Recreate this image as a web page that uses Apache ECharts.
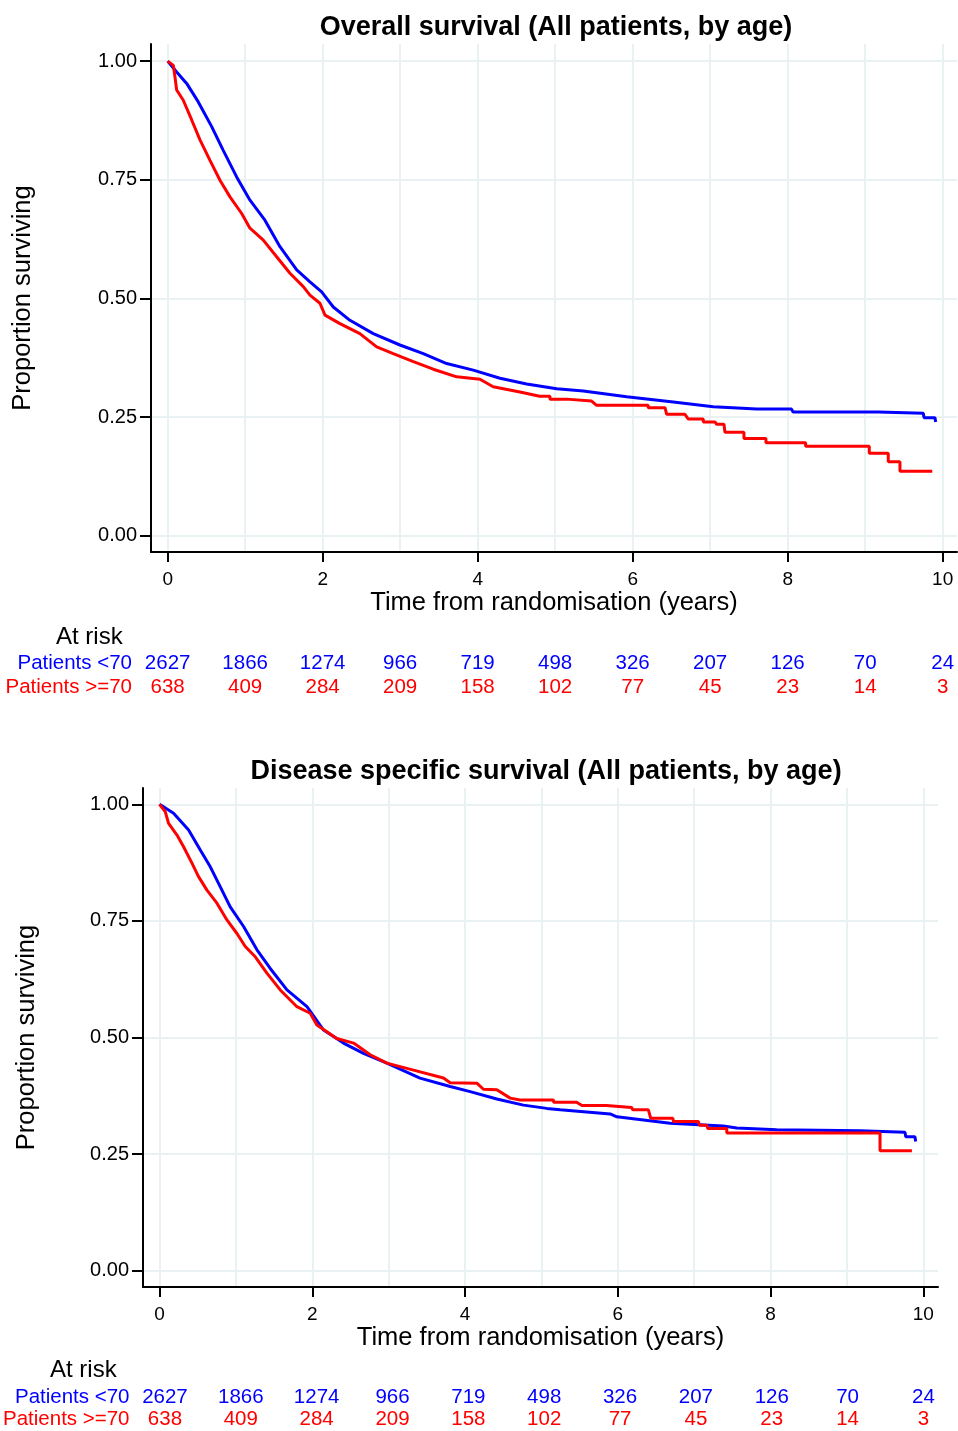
<!DOCTYPE html>
<html>
<head>
<meta charset="utf-8">
<script src="https://cdn.jsdelivr.net/npm/echarts@6/dist/echarts.min.js"></script>
<style>
  html, body { margin: 0; padding: 0; background: #fff; }
  #chart { width: 958px; height: 1431px; }
</style>
</head>
<body>
<div id="chart"></div>
<script>
// 生存曲线数据 [年, 生存比例]
const osUnder70 = [
  [0, 1.0], [0.116, 0.977], [0.245, 0.953], [0.395, 0.914], [0.568, 0.862], [0.717, 0.812],
  [0.89, 0.756], [1.062, 0.707], [1.255, 0.665], [1.449, 0.609], [1.665, 0.560], [1.836, 0.535],
  [1.987, 0.514], [2.137, 0.482], [2.352, 0.454], [2.653, 0.426], [2.997, 0.402], [3.298, 0.384],
  [3.6, 0.363], [3.943, 0.349], [4.288, 0.332], [4.632, 0.320], [5.02, 0.310], [5.363, 0.305],
  [5.923, 0.293], [6.524, 0.282], [7.04, 0.272], [7.6, 0.267], [8.05, 0.267], [8.07, 0.261],
  [9.17, 0.261], [9.17, 0.258], [9.75, 0.258], [9.76, 0.249], [9.90, 0.249], [9.91, 0.240]
]
const osOver70 = [
  [0, 1.0], [0.073, 0.991], [0.094, 0.967], [0.116, 0.939], [0.2, 0.918], [0.31, 0.876],
  [0.417, 0.834], [0.546, 0.791], [0.675, 0.749], [0.804, 0.714], [0.955, 0.679], [1.062, 0.648],
  [1.234, 0.623], [1.406, 0.588], [1.578, 0.553], [1.75, 0.525], [1.836, 0.507], [1.965, 0.490],
  [2.03, 0.465], [2.223, 0.447], [2.48, 0.426], [2.697, 0.398], [2.91, 0.384], [3.17, 0.367],
  [3.427, 0.351], [3.729, 0.335], [4.03, 0.330], [4.2, 0.314], [4.546, 0.303], [4.80, 0.294],
  [4.933, 0.294], [4.933, 0.288], [5.148, 0.288], [5.148, 0.284], [5.47, 0.284], [5.535, 0.275],
  [6.20, 0.275], [6.20, 0.270], [6.417, 0.270], [6.439, 0.256], [6.675, 0.256], [6.718, 0.246],
  [6.911, 0.246], [6.911, 0.240], [7.062, 0.240], [7.084, 0.235], [7.178, 0.235], [7.191, 0.218],
  [7.436, 0.218], [7.436, 0.205], [7.72, 0.205], [7.72, 0.196], [8.232, 0.196], [8.232, 0.189],
  [9.053, 0.189], [9.053, 0.174], [9.298, 0.174], [9.298, 0.156], [9.449, 0.156], [9.449, 0.136],
  [9.866, 0.136]
]
const dssUnder70 = [
  [0, 1.0], [0.183, 0.981], [0.38, 0.945], [0.533, 0.902], [0.664, 0.866], [0.795, 0.823],
  [0.925, 0.780], [1.1, 0.738], [1.275, 0.688], [1.449, 0.648], [1.668, 0.602], [1.93, 0.566],
  [2.147, 0.516], [2.408, 0.488], [2.67, 0.466], [2.976, 0.445], [3.41, 0.413], [3.805, 0.395],
  [4.067, 0.384], [4.416, 0.368], [4.764, 0.355], [5.07, 0.348], [5.245, 0.345], [5.90, 0.336],
  [5.987, 0.330], [6.685, 0.316], [7.38, 0.310], [7.557, 0.306], [8.08, 0.302], [9.17, 0.300],
  [9.19, 0.297], [9.76, 0.297], [9.77, 0.287], [9.89, 0.287], [9.90, 0.277]
]
const dssOver70 = [
  [0, 1.0], [0.075, 0.984], [0.118, 0.959], [0.228, 0.934], [0.314, 0.909], [0.424, 0.874],
  [0.51, 0.845], [0.62, 0.816], [0.751, 0.788], [0.882, 0.752], [1.013, 0.723], [1.122, 0.695],
  [1.253, 0.673], [1.405, 0.638], [1.58, 0.602], [1.798, 0.566], [1.972, 0.552], [2.06, 0.527],
  [2.32, 0.498], [2.54, 0.488], [2.758, 0.463], [2.976, 0.445], [3.325, 0.430], [3.717, 0.413],
  [3.805, 0.403], [4.154, 0.402], [4.24, 0.389], [4.416, 0.388], [4.59, 0.370], [4.72, 0.366],
  [5.157, 0.366], [5.16, 0.361], [5.46, 0.361], [5.53, 0.354], [5.85, 0.354], [5.856, 0.350],
  [6.18, 0.350], [6.196, 0.345], [6.40, 0.345], [6.43, 0.327], [6.72, 0.327], [6.728, 0.320],
  [7.055, 0.320], [7.068, 0.312], [7.165, 0.312], [7.178, 0.305], [7.427, 0.305], [7.427, 0.295],
  [9.433, 0.295], [9.433, 0.257], [9.85, 0.257]
]

// 风险人数表
const riskYears = [0, 1, 2, 3, 4, 5, 6, 7, 8, 9, 10]
const atRiskUnder70 = [2627, 1866, 1274, 966, 719, 498, 326, 207, 126, 70, 24]
const atRiskOver70 = [638, 409, 284, 209, 158, 102, 77, 45, 23, 14, 3]
const groupNames = ['Patients <70', 'Patients >=70']

// 刻度
const xTickValues = [0, 2, 4, 6, 8, 10]
const xGridValues = [0, 1, 2, 3, 4, 5, 6, 7, 8, 9, 10]
const yTickValues = [0, 0.25, 0.5, 0.75, 1]

const BLUE = '#0000ff'
const RED = '#ff0000'
const GRID_COLOR = '#e9f1f3'
const FONT = "'Liberation Sans', Arial, Helvetica, sans-serif"

const chart = echarts.init(document.getElementById('chart'))

const plotX = (gridIndex, xr) => [
  {
    gridIndex, type: 'value', min: xr[0], max: xr[1],
    axisLine: { show: true, onZero: false, lineStyle: { color: '#000', width: 2 } },
    axisTick: { show: true, length: 10, lineStyle: { color: '#000', width: 2 }, customValues: xTickValues },
    axisLabel: { show: true, fontSize: 19, color: '#000', margin: 18, customValues: xTickValues },
    splitLine: { show: false },
    name: 'Time from randomisation (years)', nameLocation: 'middle', nameGap: 38,
    nameTextStyle: { fontSize: 25.5, color: '#000' }
  },
  {
    gridIndex, type: 'value', min: xr[0], max: xr[1],
    axisLine: { show: false },
    axisTick: { show: false, customValues: xGridValues },
    axisLabel: { show: false, customValues: xGridValues },
    splitLine: { show: true, lineStyle: { color: GRID_COLOR, width: 2 } }
  }
]

const plotY = (gridIndex, yr, gap) => ({
  gridIndex, type: 'value', min: yr[0], max: yr[1],
  axisLine: { show: true, onZero: false, lineStyle: { color: '#000', width: 2 } },
  axisTick: { show: true, length: 11, lineStyle: { color: '#000', width: 2 }, customValues: yTickValues },
  axisLabel: {
    show: true, fontSize: 20, color: '#000', margin: 14, customValues: yTickValues,
    formatter: v => v.toFixed(2)
  },
  splitLine: { show: true, lineStyle: { color: GRID_COLOR, width: 2 } },
  name: 'Proportion surviving', nameLocation: 'middle', nameGap: gap,
  nameTextStyle: { fontSize: 25.5, color: '#000' }
})

const riskX = (gridIndex, xr) => ({
  gridIndex, type: 'value', min: xr[0], max: xr[1], show: false
})

const riskY = gridIndex => ({
  gridIndex, type: 'category', data: groupNames, inverse: true,
  axisLine: { show: false }, axisTick: { show: false }, splitLine: { show: false },
  axisLabel: {
    fontSize: 20.5, margin: 19, interval: 0,
    color: (v, i) => (i === 0 ? BLUE : RED)
  }
})

const curve = (data, color, xi, yi) => ({
  type: 'line', data, xAxisIndex: xi, yAxisIndex: yi,
  showSymbol: false, symbol: 'none',
  lineStyle: { color, width: 3 }, clip: false
})

const riskRow = (counts, row, color, xi, yi) => ({
  type: 'scatter', xAxisIndex: xi, yAxisIndex: yi, symbolSize: 0,
  itemStyle: { opacity: 1 },
  data: riskYears.map((yr, i) => [yr, groupNames[row], counts[i]]),
  label: {
    show: true, position: 'inside', color, fontSize: 20.5, opacity: 1,
    formatter: p => String(p.data[2])
  }
})

const topXR = [-0.215, 10.185]
const topYR = [-0.034, 1.036]
const botXR = [-0.217, 10.192]
const botYR = [-0.035, 1.035]

const option = {
  animation: false,
  textStyle: { fontFamily: FONT },
  title: [
    { text: 'Overall survival (All patients, by age)', left: 556, top: 14, textAlign: 'center', padding: 0,
      textStyle: { fontSize: 27, fontWeight: 'bold', color: '#000' } },
    { text: 'Disease specific survival (All patients, by age)', left: 546, top: 758, textAlign: 'center', padding: 0,
      textStyle: { fontSize: 27, fontWeight: 'bold', color: '#000' } },
    { text: 'At risk', left: 56, top: 625, padding: 0, textStyle: { fontSize: 24, fontWeight: 'normal', color: '#000' } },
    { text: 'At risk', left: 50, top: 1358, padding: 0, textStyle: { fontSize: 24, fontWeight: 'normal', color: '#000' } }
  ],
  grid: [
    { left: 151, top: 44, width: 806, height: 508 },
    { left: 151, top: 651, width: 806, height: 48 },
    { left: 143, top: 788, width: 795, height: 499 },
    { left: 143, top: 1385.5, width: 795, height: 46 }
  ],
  xAxis: [
    ...plotX(0, topXR),
    riskX(1, topXR),
    ...plotX(2, botXR),
    riskX(3, botXR)
  ],
  yAxis: [
    plotY(0, topYR, 115),
    riskY(1),
    plotY(2, botYR, 103),
    riskY(3)
  ],
  series: [
    curve(osUnder70, BLUE, 0, 0),
    curve(osOver70, RED, 0, 0),
    riskRow(atRiskUnder70, 0, BLUE, 2, 1),
    riskRow(atRiskOver70, 1, RED, 2, 1),
    curve(dssUnder70, BLUE, 3, 2),
    curve(dssOver70, RED, 3, 2),
    riskRow(atRiskUnder70, 0, BLUE, 5, 3),
    riskRow(atRiskOver70, 1, RED, 5, 3)
  ]
}

chart.setOption(option)
</script>
</body>
</html>
